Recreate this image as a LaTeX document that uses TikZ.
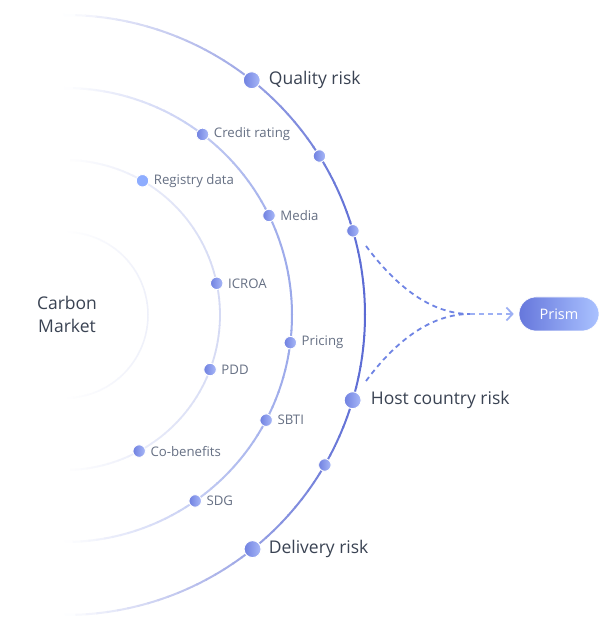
\documentclass[tikz,border=0pt]{standalone}
\usepackage{fontspec}
\setmainfont{Open Sans}
\usetikzlibrary{arrows.meta,calc}
\definecolor{arcA}{HTML}{5A6AD4}
\definecolor{arcB}{HTML}{9AA8EA}
\definecolor{arcC}{HTML}{D5DAF4}
\definecolor{arcD}{HTML}{EEF0FA}
\definecolor{textdark}{HTML}{3A4353}
\definecolor{textgrey}{HTML}{667084}
\definecolor{dotL}{HTML}{6F80E0}
\definecolor{dotR}{HTML}{A9B9F8}
\definecolor{regdot}{HTML}{8EADFF}
\definecolor{dashc}{HTML}{6F84E4}
\definecolor{dashlight}{HTML}{9DB0F4}
\definecolor{pillL}{HTML}{6677DC}
\definecolor{pillR}{HTML}{AAC2FF}
\newcommand\myfadearc[3]{%
  \foreach \a in {-90,-88,...,88}{%
    \pgfmathtruncatemacro\arcmix{100*cos(\a+1)}%
    \draw[line width=#3,draw=#2!\arcmix!white] ($(C)+(\a:#1)$) arc[start angle=\a,delta angle=2.2,radius=#1];}}
\tikzset{
  bigdot/.style={circle,inner sep=0pt,minimum size=17pt,left color=dotL,right color=dotR,draw=white,line width=1pt},
  smalldot/.style={circle,inner sep=0pt,minimum size=12.5pt,left color=dotL,right color=dotR,draw=white,line width=0.9pt},
  regdotstyle/.style={circle,inner sep=0pt,minimum size=12.5pt,fill=regdot,draw=white,line width=0.9pt},
  biglbl/.style={font=\fontsize{17.5}{21}\selectfont,text=textdark,anchor=west,inner sep=0pt},
  smlbl/.style={font=\fontsize{13.2}{16}\selectfont,text=textgrey,anchor=west,inner sep=0pt},
  dashline/.style={draw=dashc,line width=1.8pt,dash pattern=on 5pt off 4pt},
  pill/.style={rounded corners=17pt,minimum width=80pt,minimum height=34pt,inner sep=0pt,left color=pillL,right color=pillR,draw=white,line width=0.6pt,text=white,font=\fontsize{14.5}{16}\selectfont}
}
\begin{document}
\begin{tikzpicture}[x=1pt,y=1pt]
\fill[white] (0,0) rectangle (600,628);
\useasboundingbox (0,0) rectangle (600,628);
\coordinate (C) at (65,313);
% arcs
\myfadearc{83}{arcD}{1.5pt}
\myfadearc{155}{arcC}{1.8pt}
\myfadearc{227}{arcB}{2pt}
\myfadearc{300}{arcA}{2pt}
% centre text
\node[font=\fontsize{17.5}{23}\selectfont,text=textdark,align=center] (cm) at (67,314) {Carbon\\Market};
% outer arc dots
\node[bigdot] (q) at ($(C)+(51.5:300)$) {};
\node[smalldot] (o2) at ($(C)+(32:300)$) {};
\node[smalldot] (o3) at ($(C)+(16.3:300)$) {};
\node[bigdot] (h) at ($(C)+(-16.5:300)$) {};
\node[smalldot] (o5) at ($(C)+(-30:300)$) {};
\node[bigdot] (d) at ($(C)+(-51.3:300)$) {};
\node[biglbl] (tq) at ([xshift=8pt]q.east) {Quality risk};
\node[biglbl] (th) at ([xshift=9pt]h.east) {Host country risk};
\node[biglbl] (td) at ([xshift=7pt]d.east) {Delivery risk};
% second arc
\node[smalldot] (cr) at ($(C)+(52.7:227)$) {};
\node[smalldot] (me) at ($(C)+(26:227)$) {};
\node[smalldot] (pr) at ($(C)+(-7:227)$) {};
\node[smalldot] (sb) at ($(C)+(-27.6:227)$) {};
\node[smalldot] (sd) at ($(C)+(-55:227)$) {};
\node[smlbl] at ([xshift=4.5pt]cr.east) {Credit rating};
\node[smlbl] at ([xshift=4.5pt]me.east) {Media};
\node[smlbl] at ([xshift=4.5pt]pr.east) {Pricing};
\node[smlbl] at ([xshift=4.5pt]sb.east) {SBTI};
\node[smlbl] at ([xshift=4.5pt]sd.east) {SDG};
% third arc
\node[regdotstyle] (rd) at ($(C)+(60:155)$) {};
\node[smalldot] (ic) at ($(C)+(11.8:155)$) {};
\node[smalldot] (pd) at ($(C)+(-20.6:155)$) {};
\node[smalldot] (cb) at ($(C)+(-61.4:155)$) {};
\node[smlbl] at ([xshift=4.5pt]rd.east) {Registry data};
\node[smlbl] at ([xshift=4.5pt]ic.east) {ICROA};
\node[smlbl] at ([xshift=4.5pt]pd.east) {PDD};
\node[smlbl] at ([xshift=4.5pt]cb.east) {Co-benefits};
% prism
\node[pill] (prism) at (559,314) {Prism};
\coordinate (s1) at (366,382);
\coordinate (s2) at (366,247);
\coordinate (j) at (470,314);
\draw[dashline] (s1) .. controls (395,343) and (430,314) .. (j);
\draw[dashline] (s2) .. controls (395,286) and (430,314) .. (j);
\draw[dashline,draw=dashlight,-{Straight Barb[length=6pt,width=13pt,line width=1.8pt]}] (j) -- ([xshift=-5pt]prism.west);
\end{tikzpicture}
\end{document}
